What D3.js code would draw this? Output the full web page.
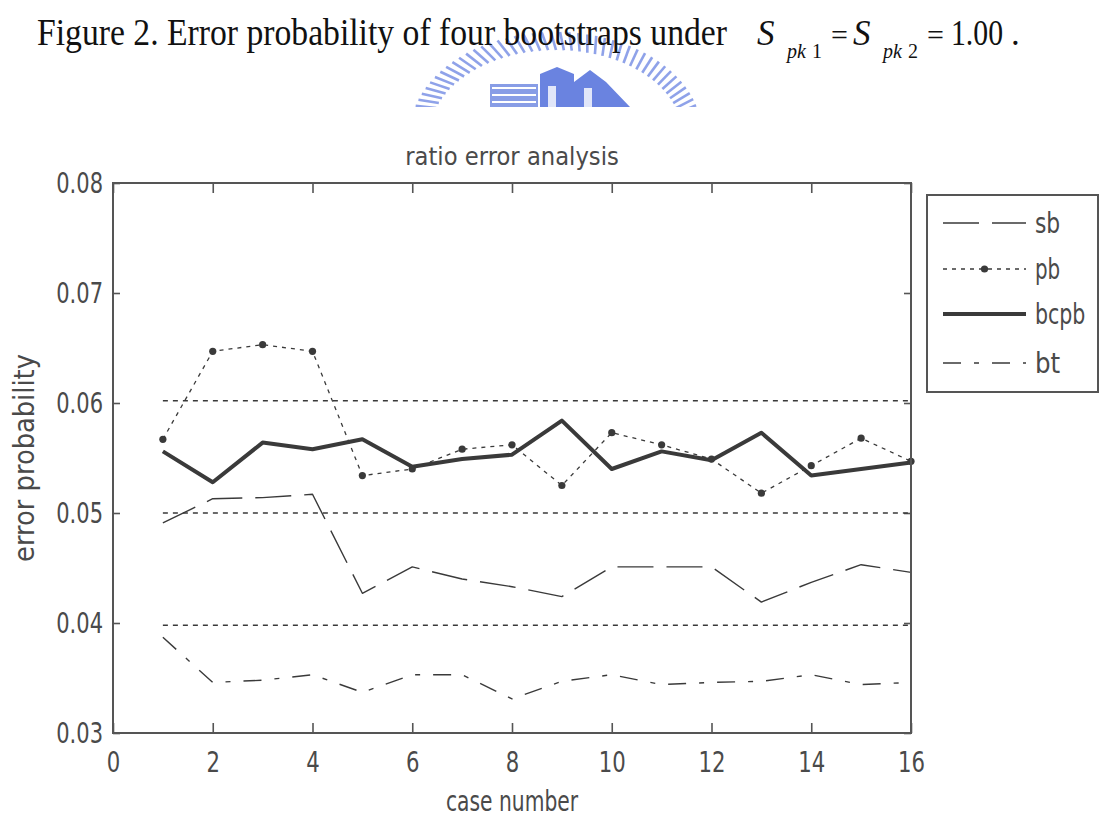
<!DOCTYPE html>
<html><head><meta charset="utf-8">
<script src="https://cdn.jsdelivr.net/npm/d3@7"></script>
<style>html,body{margin:0;padding:0;background:#fff;}svg{display:block;}</style>
</head><body>
<svg id="chart" width="1100" height="818"></svg>
<script>
// ---- data ----
const caseNumbers = d3.range(1, 17);
const sb   = [0.0491,0.0513,0.0514,0.0517,0.0427,0.0451,0.0440,0.0433,0.0424,0.0451,0.0451,0.0451,0.0419,0.0437,0.0453,0.0446];
const pb   = [0.0567,0.0647,0.0653,0.0647,0.0534,0.0540,0.0558,0.0562,0.0525,0.0573,0.0562,0.0549,0.0518,0.0543,0.0568,0.0547];
const bcpb = [0.0556,0.0528,0.0564,0.0558,0.0567,0.0542,0.0549,0.0553,0.0584,0.0540,0.0556,0.0548,0.0573,0.0534,0.0540,0.0546];
const bt   = [0.0387,0.0346,0.0348,0.0353,0.0337,0.0353,0.0353,0.0331,0.0347,0.0353,0.0344,0.0346,0.0347,0.0353,0.0344,0.0346];
const refLevels = [0.0602, 0.05, 0.0398];
const refRange = [1, 16];
const xTicks = [0,2,4,6,8,10,12,14,16];
const yTicks = [0.03,0.04,0.05,0.06,0.07,0.08];
const seriesNames = ["sb","pb","bcpb","bt"];

const svg = d3.select("#chart");
const FONT = "'DejaVu Sans','Liberation Sans',sans-serif";
const INK = "#3a3a3a";
const AX = "#555";
const TXT = "#4a4a4a";
// narrow-glyph width estimate (MATLAB-like condensed font)
function narrowWidth(str, size){
  let w = 0;
  for(const ch of str){ w += (ch === "." ? 0.21 : (ch===" " ? 0.22 : 0.45)) * size; }
  return w;
}

// ---- logo (decorative watermark) ----
const clip = svg.append("clipPath").attr("id","logoClip");
clip.append("rect").attr("x",380).attr("y",0).attr("width",360).attr("height",107);
const lg = svg.append("g").attr("clip-path","url(#logoClip)");
const cx0 = 556, cy0 = 134;
d3.range(0, 181, 3.6).forEach(a => {
  const t = (180 - a) * Math.PI / 180;
  const r1x = 126, r1y = 84, r2x = 146, r2y = 102;
  lg.append("line")
    .attr("x1", cx0 + r1x*Math.cos(t)).attr("y1", cy0 - r1y*Math.sin(t))
    .attr("x2", cx0 + r2x*Math.cos(t+0.035)).attr("y2", cy0 - r2y*Math.sin(t+0.035))
    .attr("stroke","#6a84e2").attr("stroke-width",2.6).attr("opacity",0.75);
});
lg.append("rect").attr("x",490).attr("y",84).attr("width",48).attr("height",23).attr("fill","#5574dc").attr("opacity",0.7);
[88,95,102].forEach(yy=>lg.append("line").attr("x1",492).attr("x2",536).attr("y1",yy).attr("y2",yy).attr("stroke","#fff").attr("stroke-width",2));
lg.append("path").attr("d","M540,107 L540,74 L557,67 L574,74 L574,82 L590,70 L606,82 L630,107 Z").attr("fill","#4564d8").attr("opacity",0.8);
lg.append("rect").attr("x",548).attr("y",86).attr("width",8).attr("height",21).attr("fill","#fff").attr("opacity",0.8);
lg.append("rect").attr("x",584).attr("y",88).attr("width",8).attr("height",19).attr("fill","#fff").attr("opacity",0.8);

// ---- caption ----
const cap = svg.append("g").attr("font-family","'Liberation Serif','Times New Roman',serif").attr("fill","#111");
cap.append("text").attr("x",37).attr("y",45).attr("font-size",37)
  .attr("textLength",690).attr("lengthAdjust","spacingAndGlyphs")
  .text("Figure 2. Error probability of four bootstraps under");
const capParts = [
  {t:"S", x:757, y:45, s:35, it:true},
  {t:"pk", x:787, y:58, s:20, it:true},
  {t:"1", x:812, y:58, s:20, it:false},
  {t:"=", x:831, y:45, s:30, it:false},
  {t:"S", x:853, y:45, s:35, it:true},
  {t:"pk", x:883, y:58, s:20, it:true},
  {t:"2", x:908, y:58, s:20, it:false},
  {t:"=", x:927, y:45, s:30, it:false},
  {t:"1.00", x:951, y:45, s:35, it:false, len:52},
  {t:".", x:1011, y:45, s:35, it:false}
];
capParts.forEach(p => {
  const t = cap.append("text").attr("x",p.x).attr("y",p.y).attr("font-size",p.s)
    .attr("font-style",p.it?"italic":"normal").text(p.t);
  if(p.len) t.attr("textLength",p.len).attr("lengthAdjust","spacingAndGlyphs");
});

// ---- scales ----
const L = 113, R = 911, T = 183, B = 733;
const x = d3.scaleLinear().domain([0,16]).range([L,R]);
const y = d3.scaleLinear().domain([0.03,0.08]).range([B,T]);

// axes
const gl = svg.append("g").attr("transform",`translate(${L},0)`)
  .call(d3.axisLeft(y).tickValues(yTicks).tickSize(-7).tickPadding(10).tickFormat(d3.format(".2f")));
const gb = svg.append("g").attr("transform",`translate(0,${B})`)
  .call(d3.axisBottom(x).tickValues(xTicks).tickSize(-10).tickPadding(18).tickFormat(d3.format("d")));
const gt = svg.append("g").attr("transform",`translate(0,${T})`)
  .call(d3.axisTop(x).tickValues(xTicks).tickSize(-10).tickFormat(""));
const gr = svg.append("g").attr("transform",`translate(${R},0)`)
  .call(d3.axisRight(y).tickValues(yTicks).tickSize(-7).tickFormat(""));
[gl,gb,gt,gr].forEach(g=>{
  g.select(".domain").remove();
  g.selectAll(".tick line").attr("stroke",AX).attr("stroke-width",1.6);
  g.selectAll(".tick text").attr("fill",TXT).attr("font-size",29).attr("font-family",FONT)
    .each(function(){ const s=d3.select(this); s.attr("textLength",narrowWidth(s.text(),30)).attr("lengthAdjust","spacingAndGlyphs"); });
});

// reference dashed lines
const refLine = d3.line().x(d=>x(d[0])).y(d=>y(d[1]));
svg.append("g").selectAll("path").data(refLevels).join("path")
  .attr("d", v => refLine(refRange.map(c=>[c,v])))
  .attr("fill","none").attr("stroke",INK).attr("stroke-width",1.6).attr("stroke-dasharray","5,5");

// series
const line = d3.line().x((d,i)=>x(caseNumbers[i])).y(d=>y(d));
const styles = {
  sb:   {data:sb,   w:1.4, dash:"36,13"},
  pb:   {data:pb,   w:1.3, dash:"4,5"},
  bcpb: {data:bcpb, w:4,   dash:null},
  bt:   {data:bt,   w:1.4, dash:"18,13,5,13"}
};
const plot = svg.append("g");
seriesNames.forEach(n=>{
  const s = styles[n];
  plot.append("path").attr("d",line(s.data)).attr("fill","none").attr("stroke",INK)
    .attr("stroke-width",s.w).attr("stroke-dasharray",s.dash).attr("stroke-linejoin","round");
});
plot.append("g").selectAll("circle").data(pb).join("circle")
  .attr("cx",(d,i)=>x(caseNumbers[i])).attr("cy",d=>y(d)).attr("r",3.6).attr("fill",INK);

// frame
svg.append("rect").attr("x",L).attr("y",T).attr("width",R-L).attr("height",B-T)
  .attr("fill","none").attr("stroke",AX).attr("stroke-width",2);

// titles
function narrowText(sel, size){
  sel.attr("font-family",FONT).attr("font-size",size).attr("fill",TXT)
    .attr("textLength",narrowWidth(sel.text(),size)).attr("lengthAdjust","spacingAndGlyphs");
  return sel;
}
narrowText(svg.append("text").attr("x",(L+R)/2).attr("y",165).attr("text-anchor","middle").text("ratio error analysis"), 25);
narrowText(svg.append("text").attr("x",(L+R)/2).attr("y",811).attr("text-anchor","middle").text("case number"), 28);
narrowText(svg.append("text").attr("transform",`translate(34,${(T+B)/2}) rotate(-90)`).attr("text-anchor","middle").text("error probability"), 28);

// legend
const lgd = svg.append("g");
lgd.append("rect").attr("x",927).attr("y",195).attr("width",171).attr("height",197)
  .attr("fill","#fff").attr("stroke",AX).attr("stroke-width",2);
const legY = [223,269,314,363];
seriesNames.forEach((n,i)=>{
  const s = styles[n];
  lgd.append("line").attr("x1",943).attr("x2",1026).attr("y1",legY[i]).attr("y2",legY[i])
    .attr("stroke",INK).attr("stroke-width",s.w).attr("stroke-dasharray",s.dash);
  if(n==="pb") lgd.append("circle").attr("cx",984.5).attr("cy",legY[i]).attr("r",3.6).attr("fill",INK);
  narrowText(lgd.append("text").attr("x",1035).attr("y",legY[i]).attr("dy","0.35em").text(n), 28);
});
</script>
</body></html>
